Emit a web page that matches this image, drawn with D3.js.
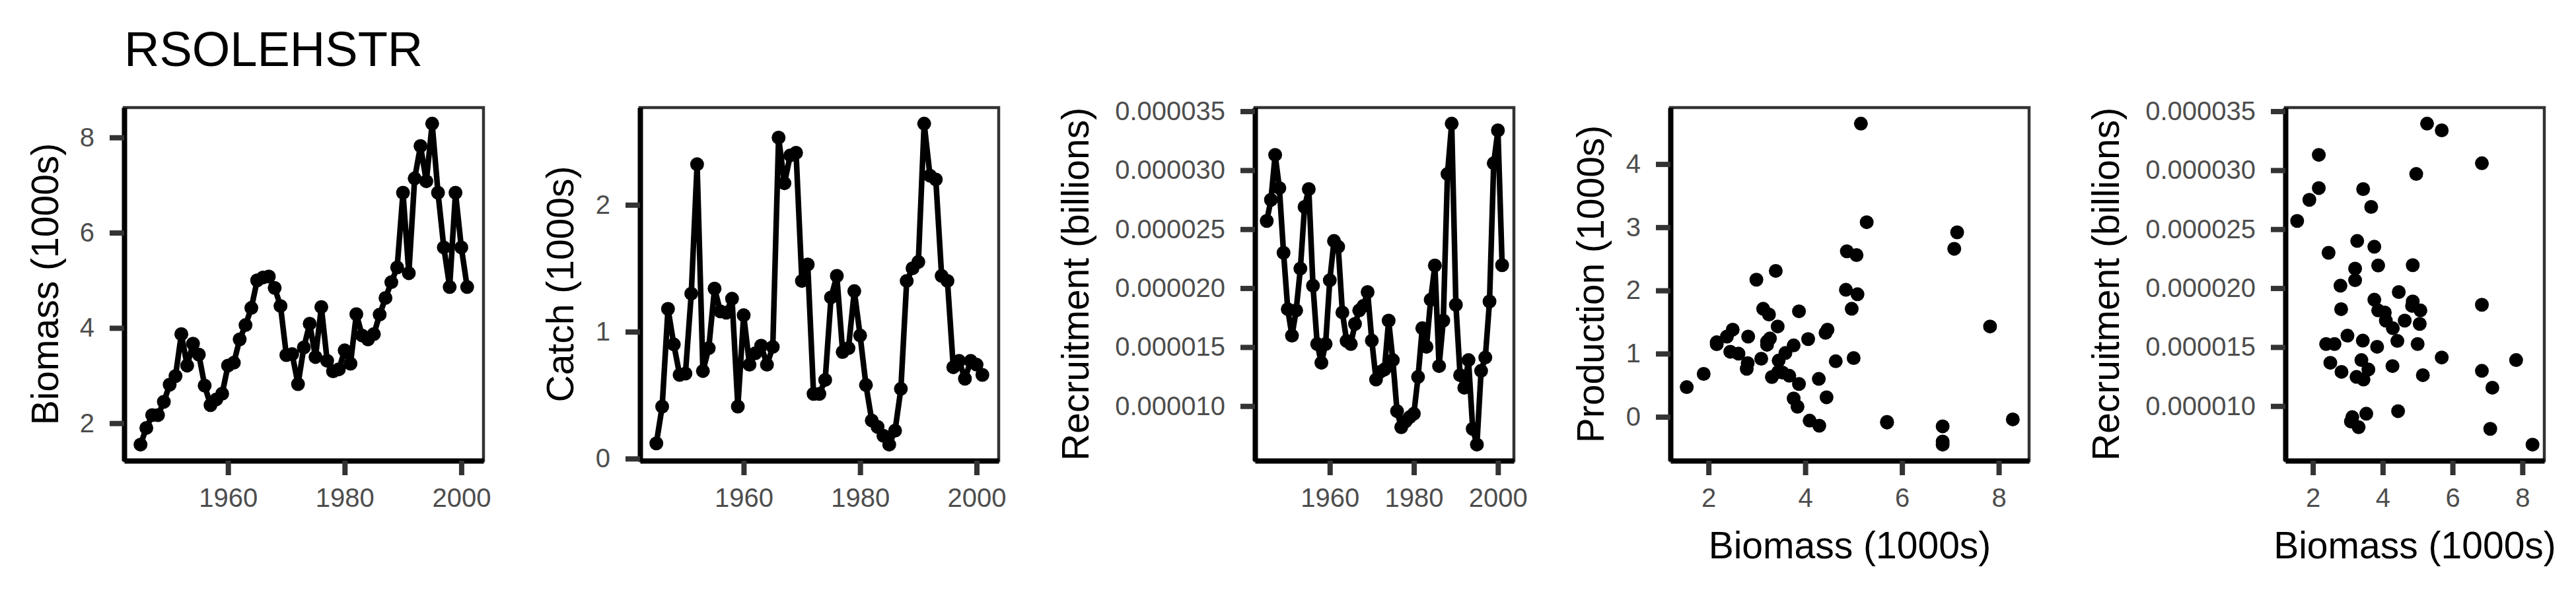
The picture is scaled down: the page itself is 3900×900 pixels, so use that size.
<!DOCTYPE html>
<html>
<head>
<meta charset="utf-8">
<script src="https://cdn.jsdelivr.net/npm/d3@7"></script>
<style>
  body { margin: 0; background: #fff; }
</style>
</head>
<body>
<svg id="chart"></svg>
<script>
// stock RSOLEHSTR, values in 1000s (recruitment in billions)
const years = [1945, 1946, 1947, 1948, 1949, 1950, 1951, 1952, 1953, 1954,
  1955, 1956, 1957, 1958, 1959, 1960, 1961, 1962, 1963, 1964,
  1965, 1966, 1967, 1968, 1969, 1970, 1971, 1972, 1973, 1974,
  1975, 1976, 1977, 1978, 1979, 1980, 1981, 1982, 1983, 1984,
  1985, 1986, 1987, 1988, 1989, 1990, 1991, 1992, 1993, 1994,
  1995, 1996, 1997, 1998, 1999, 2000, 2001];

const biomass = [1.55, 1.90, 2.17, 2.17, 2.45, 2.81, 2.99, 3.87, 3.21, 3.67,
  3.44, 2.79, 2.38, 2.50, 2.62, 3.21, 3.27, 3.76, 4.06, 4.42,
  5.00, 5.06, 5.08, 4.84, 4.46, 3.43, 3.45, 2.82, 3.59, 4.09,
  3.39, 4.44, 3.31, 3.09, 3.13, 3.53, 3.25, 4.29, 3.84, 3.76,
  3.87, 4.28, 4.63, 4.96, 5.27, 6.84, 5.15, 7.14, 7.82, 7.08,
  8.29, 6.84, 5.69, 4.86, 6.84, 5.69, 4.86];

const catchVals = [0.12, 0.41, 1.18, 0.90, 0.66, 0.67, 1.30, 2.32, 0.69, 0.87,
  1.34, 1.16, 1.15, 1.26, 0.41, 1.13, 0.74, 0.83, 0.89, 0.74,
  0.88, 2.53, 2.17, 2.39, 2.41, 1.40, 1.53, 0.51, 0.51, 0.62,
  1.27, 1.44, 0.84, 0.87, 1.32, 0.97, 0.58, 0.30, 0.25, 0.18,
  0.11, 0.22, 0.55, 1.40, 1.50, 1.55, 2.64, 2.23, 2.20, 1.44,
  1.40, 0.72, 0.77, 0.63, 0.77, 0.74, 0.66];

const recruitment = [2.570e-5, 2.749e-5, 3.130e-5, 2.849e-5, 2.300e-5, 1.822e-5, 1.597e-5, 1.811e-5, 2.166e-5, 2.689e-5,
  2.840e-5, 2.021e-5, 1.526e-5, 1.367e-5, 1.526e-5, 2.067e-5, 2.400e-5, 2.351e-5, 1.794e-5, 1.552e-5,
  1.526e-5, 1.697e-5, 1.811e-5, 1.850e-5, 1.967e-5, 1.555e-5, 1.225e-5, 1.290e-5, 1.310e-5, 1.725e-5,
  1.390e-5, 0.957e-5, 0.821e-5, 0.869e-5, 0.906e-5, 0.935e-5, 1.247e-5, 1.660e-5, 1.503e-5, 1.902e-5,
  2.192e-5, 1.339e-5, 1.725e-5, 2.968e-5, 3.395e-5, 1.859e-5, 1.262e-5, 1.156e-5, 1.390e-5, 0.807e-5,
  0.673e-5, 1.299e-5, 1.412e-5, 1.887e-5, 3.059e-5, 3.338e-5, 2.195e-5];

// production only up to 2000
const production = [0.47, 0.68, 1.18, 1.15, 1.03, 0.85, 2.17, 1.67, 1.14, 0.65,
  0.71, 0.76, 1.27, 1.38, 1.00, 1.19, 1.24, 1.13, 1.23, 1.33,
  0.93, 2.56, 1.94, 2.01, 1.38, 1.43, 0.89, 1.27, 1.01, -0.06,
  2.31, 0.31, 0.63, 0.92, 1.71, 0.70, 1.62, -0.14, 0.16, 0.29,
  0.52, 0.60, 0.88, 1.71, 3.08, -0.15, 4.64, 2.92, 1.43, 2.66,
  -0.04, -0.44, -0.08, 2.62, -0.39, -0.09];

const yearTicks = [1960, 1980, 2000];
const biomassTicks = [2, 4, 6, 8];
const catchTicks = [0, 1, 2];
const recruitTicks = [0.000010, 0.000015, 0.000020, 0.000025, 0.000030, 0.000035];
const prodTicks = [0, 1, 2, 3, 4];

const W = 3900, H = 900, cellW = 780;
const plotTop = 163, plotBottom = 698, plotRight = 732;
const font = "'Liberation Sans', Arial, Helvetica, sans-serif";

const svg = d3.select('#chart')
  .attr('width', W)
  .attr('height', H);

svg.append('rect')
  .attr('width', W)
  .attr('height', H)
  .attr('fill', '#fff');

svg.append('text')
  .attr('x', 188)
  .attr('y', 100)
  .attr('font-family', font)
  .attr('font-size', 74)
  .attr('fill', '#000')
  .text('RSOLEHSTR');

// ggplot style 5% padding
const expand = ext => {
  const pad = (ext[1] - ext[0]) * 0.05;
  return [ext[0] - pad, ext[1] + pad];
};

const panels = [
  { xs: years, ys: biomass, line: true, left: 188, yTitle: 'Biomass (1000s)',
    xTicks: yearTicks, yTicks: biomassTicks, xFmt: d3.format('d'), yFmt: d3.format('d') },
  { xs: years, ys: catchVals, line: true, left: 189, yTitle: 'Catch (1000s)',
    xTicks: yearTicks, yTicks: catchTicks, xFmt: d3.format('d'), yFmt: d3.format('d') },
  { xs: years, ys: recruitment, line: true, left: 340, yTitle: 'Recruitment (billions)',
    xTicks: yearTicks, yTicks: recruitTicks, xFmt: d3.format('d'), yFmt: d3.format('.6f') },
  { xs: biomass.slice(0, production.length), ys: production, line: false, left: 189,
    yTitle: 'Production (1000s)', xTitle: 'Biomass (1000s)',
    xTicks: biomassTicks, yTicks: prodTicks, xFmt: d3.format('d'), yFmt: d3.format('d') },
  { xs: biomass, ys: recruitment, line: false, left: 340,
    yTitle: 'Recruitment (billions)', xTitle: 'Biomass (1000s)',
    xTicks: biomassTicks, yTicks: recruitTicks, xFmt: d3.format('d'), yFmt: d3.format('.6f') }
];

panels.forEach((p, i) => {
  const ox = i * cellW;
  const pts = p.ys.map((v, k) => ({ x: p.xs[k], y: v }));

  const x = d3.scaleLinear()
    .domain(expand(d3.extent(pts, d => d.x)))
    .range([ox + p.left, ox + plotRight]);

  const y = d3.scaleLinear()
    .domain(expand(d3.extent(pts, d => d.y)))
    .range([plotBottom, plotTop]);

  const g = svg.append('g');

  // panel border
  g.append('rect')
    .attr('x', ox + p.left)
    .attr('y', plotTop)
    .attr('width', plotRight - p.left)
    .attr('height', plotBottom - plotTop)
    .attr('fill', 'none')
    .attr('stroke', '#333')
    .attr('stroke-width', 4.5);

  if (p.line) {
    g.append('path')
      .datum(pts)
      .attr('fill', 'none')
      .attr('stroke', '#000')
      .attr('stroke-width', 8.5)
      .attr('stroke-linejoin', 'round')
      .attr('d', d3.line().x(d => x(d.x)).y(d => y(d.y)));
  }

  g.selectAll('circle')
    .data(pts)
    .join('circle')
    .attr('cx', d => x(d.x))
    .attr('cy', d => y(d.y))
    .attr('r', 10.5)
    .attr('fill', '#000');

  const gx = g.append('g')
    .attr('transform', `translate(0,${plotBottom})`)
    .call(d3.axisBottom(x).tickValues(p.xTicks).tickFormat(p.xFmt)
      .tickSize(22).tickSizeOuter(0).tickPadding(20));

  const gy = g.append('g')
    .attr('transform', `translate(${ox + p.left},0)`)
    .call(d3.axisLeft(y).tickValues(p.yTicks).tickFormat(p.yFmt)
      .tickSize(22).tickSizeOuter(0).tickPadding(23));

  [gx, gy].forEach(a => {
    a.attr('font-family', font).attr('font-size', 40);
    a.select('.domain').attr('stroke', '#000').attr('stroke-width', 8);
    a.selectAll('.tick line').attr('stroke', '#333').attr('stroke-width', 8);
    a.selectAll('.tick text').attr('fill', '#4d4d4d');
  });

  g.append('text')
    .attr('transform', `translate(${ox + 88},${(plotTop + plotBottom) / 2}) rotate(-90)`)
    .attr('text-anchor', 'middle')
    .attr('font-family', font)
    .attr('font-size', 57)
    .attr('fill', '#000')
    .text(p.yTitle);

  if (p.xTitle) {
    g.append('text')
      .attr('x', (ox + p.left + ox + plotRight) / 2)
      .attr('y', 846)
      .attr('text-anchor', 'middle')
      .attr('font-family', font)
      .attr('font-size', 57)
      .attr('fill', '#000')
      .text(p.xTitle);
  }
});
</script>
</body>
</html>
